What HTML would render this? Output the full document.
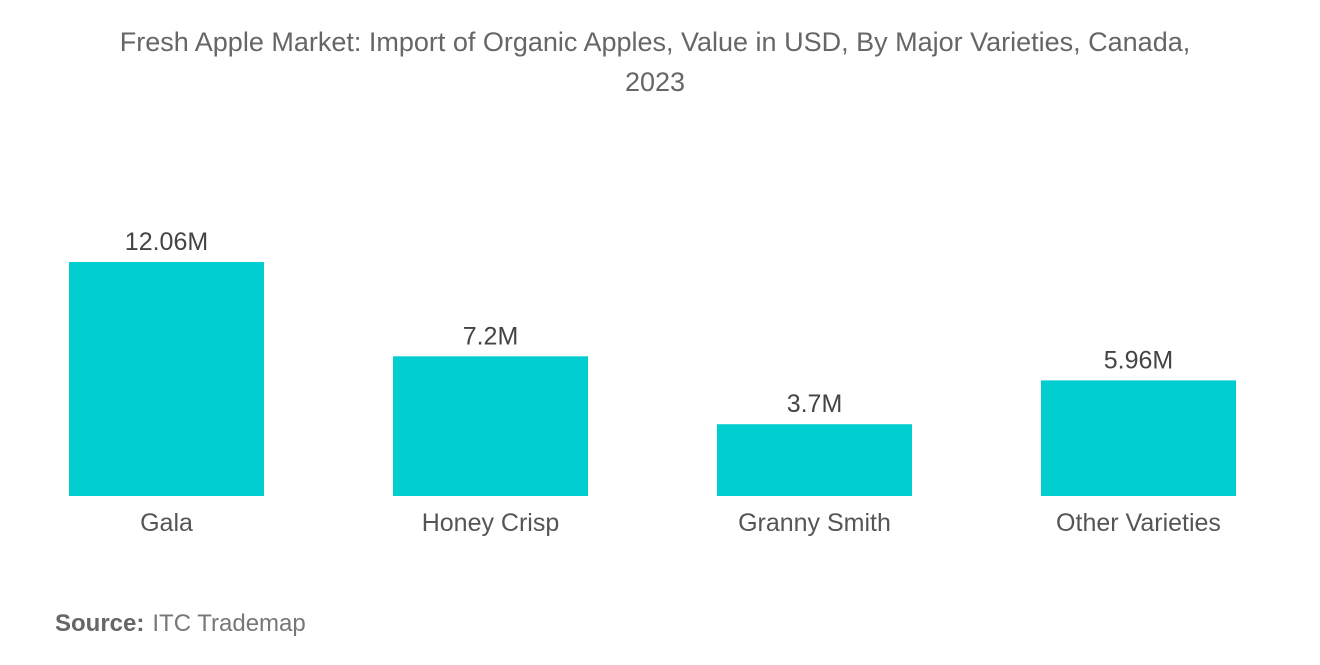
<!DOCTYPE html>
<html>
<head>
<meta charset="utf-8">
<style>
  html,body{margin:0;padding:0;background:#fff;}
  body{width:1320px;height:665px;position:relative;overflow:hidden;font-family:"Liberation Sans",sans-serif;}
  #title{position:absolute;left:0;top:22px;width:1310px;text-align:center;color:#666;font-size:27px;line-height:40px;}
  #source{position:absolute;left:55px;top:610px;font-size:24px;color:#777;}
  #source b{color:#666;font-weight:bold;margin-right:8px;}
</style>
</head>
<body>
<div id="title">Fresh Apple Market: Import of Organic Apples, Value in USD, By Major Varieties, Canada,<br>2023</div>
<svg id="chart" width="1320" height="665" style="position:absolute;left:0;top:0;"></svg>
<div id="source"><b>Source:</b>ITC Trademap</div>
<script>
const categories = ["Gala","Honey Crisp","Granny Smith","Other Varieties"];
const values = [12.06,7.2,3.7,5.96];
const valueLabels = ["12.06M","7.2M","3.7M","5.96M"];

const baseY = 496, pxPerUnit = 19.4;
const firstX = 69, step = 324, barW = 195;
function xPos(i){return firstX + i*step;}
function yPos(v){return baseY - v*pxPerUnit;}

const svg = document.getElementById('chart');
const NS = "http://www.w3.org/2000/svg";
categories.forEach((c,i)=>{
  const x = xPos(i), y = yPos(values[i]);
  const r = document.createElementNS(NS,'rect');
  r.setAttribute('x',x); r.setAttribute('y',y);
  r.setAttribute('width',barW); r.setAttribute('height',baseY-y);
  r.setAttribute('fill','#00CDD0');
  
  
  svg.appendChild(r);

  const vl = document.createElementNS(NS,'text');
  vl.setAttribute('x',x+barW/2); vl.setAttribute('y',y-12);
  vl.setAttribute('text-anchor','middle');
  vl.setAttribute('font-size','25'); vl.setAttribute('fill','#444');
  vl.setAttribute('font-family','Liberation Sans, sans-serif');
  vl.textContent = valueLabels[i];
  
  
  svg.appendChild(vl);

  const cl = document.createElementNS(NS,'text');
  cl.setAttribute('x',x+barW/2); cl.setAttribute('y',531);
  cl.setAttribute('text-anchor','middle');
  cl.setAttribute('font-size','25'); cl.setAttribute('fill','#555');
  cl.setAttribute('font-family','Liberation Sans, sans-serif');
  cl.textContent = c;
  
  
  svg.appendChild(cl);
});
</script>
</body>
</html>
